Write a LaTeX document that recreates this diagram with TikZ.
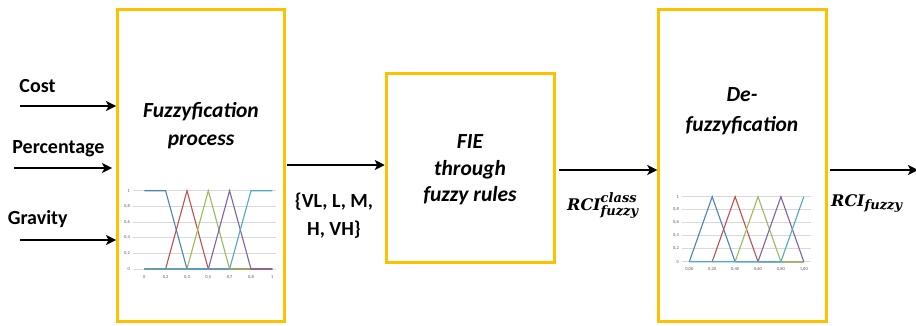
\documentclass[tikz,border=0pt]{standalone}
\usepackage{fontspec}
\setmainfont{Carlito}
\newfontfamily\rcifont{DejaVu Serif}
\usepackage{amsmath}
\DeclareMathSizes{16}{16}{13}{10}
\usetikzlibrary{arrows.meta}
\definecolor{boxor}{HTML}{FFC000}
\definecolor{gridc}{HTML}{D9D9D9}
\definecolor{labc}{HTML}{595959}
\definecolor{sblue}{HTML}{4F81BD}
\definecolor{sred}{HTML}{C0504D}
\definecolor{sgreen}{HTML}{9BBB59}
\definecolor{spurple}{HTML}{8064A2}
\definecolor{scyan}{HTML}{4BACC6}
\newcommand{\bi}[1]{\text{\bfseries\itshape #1}}
\begin{document}
\begin{tikzpicture}[x=1pt,y=-1pt,
  procbox/.style={draw=boxor,line width=3pt,rectangle,inner sep=0pt,fill=white},
  boxtxt/.style={font=\fontsize{21.5}{25}\selectfont\bfseries\itshape,anchor=base,inner sep=0pt},
  lbl/.style={font=\fontsize{20}{24}\selectfont\bfseries,anchor=base,inner sep=0pt},
  rci/.style={font=\fontsize{16}{19}\selectfont\rcifont,anchor=base west,inner sep=0pt},
  arr/.style={line width=2.6pt,-{Stealth[length=10pt,width=10pt,inset=2.5pt]}},
  grid/.style={draw=gridc,line width=0.6pt},
  tick/.style={font=\fontsize{4.5}{5}\selectfont,text=labc,inner sep=0pt},
  ser/.style={line width=1.1pt}
]
\useasboundingbox (0,0) rectangle (916,325);
\fill[white] (0,0) rectangle (916,325);

% boxes
\node[procbox,minimum width=166.7pt,minimum height=312pt] (b1) at (200.9,165.8) {};
\node[procbox,minimum width=168.3pt,minimum height=189.3pt] (b2) at (470.4,167.9) {};
\node[procbox,minimum width=168pt,minimum height=312pt] (b3) at (742.8,165.8) {};

% box texts
\node[boxtxt] (t1a) at (201,117) {Fuzzyfication};
\node[boxtxt] (t1b) at (201,145) {process};
\node[boxtxt] (t2a) at (470,148.3) {FIE};
\node[boxtxt] (t2b) at (470,175) {through};
\node[boxtxt] (t2c) at (470,201.7) {fuzzy rules};
\node[boxtxt] (t3a) at (742,101.7) {De-};
\node[boxtxt] (t3b) at (742,131.7) {fuzzyfication};

% input labels
\node[lbl] (lcost) at (37.5,92.3) {Cost};
\node[lbl] (lperc) at (58.5,153.3) {Percentage};
\node[lbl] (lgrav) at (37.7,224.3) {Gravity};
\node[lbl] (lset1) at (334,207) {\{VL, L, M,};
\node[lbl] (lset2) at (334,235) {H, VH\}};
\node[rci] (rc1) at (567,210) {$\bi{RCI}^{\bi{class}}_{\bi{fuzzy}}$};
\node[rci] (rc2) at (831,206) {$\bi{RCI}_{\bi{fuzzy}}$};

% arrows
\coordinate (c1) at (20,106);
\coordinate (c2) at (14.3,168);
\coordinate (c3) at (20,240);
\coordinate (y165) at (0,165);
\coordinate (y170) at (0,170);
\coordinate (out) at (918,170);
\draw[arr] (c1) -- (c1 -| b1.west);
\draw[arr,shorten >=4pt] (c2) -- (c2 -| b1.west);
\draw[arr] (c3) -- (c3 -| b1.west);
\draw[arr,shorten <=1.5pt] (b1.east |- y165) -- (b2.west |- y165);
\draw[arr,shorten <=3pt] (b2.east |- y170) -- (b3.west |- y170);
\draw[arr,shorten <=2pt] (b3.east |- y170) -- (out);

% chart 1
\foreach \k/\t in {0/1,1/{0,8},2/{0,6},3/{0,4},4/{0,2},5/0}{
  \draw[grid] (133,190.7+15.67*\k) -- (276,190.7+15.67*\k);
  \node[tick,anchor=east] at (130,190.7+15.67*\k) {\t};
}
\foreach \i/\t in {0/0,1/{0,2},2/{0,3},3/{0,5},4/{0,7},5/{0,8},6/1}{
  \node[tick] at (144.3+21.33*\i,277.3) {\t};
}
\draw[ser,sblue] (144.3,190.7) -- (165.6,190.7) -- (187,269) -- (272.3,269);
\draw[ser,sred] (144.3,269) -- (165.6,269) -- (187,190.7) -- (208.3,269) -- (272.3,269);
\draw[ser,sgreen] (144.3,269) -- (187,269) -- (208.3,190.7) -- (229.6,269) -- (251,269);
\draw[ser,spurple] (144.3,269) -- (208.3,269) -- (229.6,190.7) -- (251,269) -- (272.3,269);
\draw[ser,scyan] (144.3,269) -- (229.6,269) -- (251,190.7) -- (272.3,190.7);

% chart 2
\foreach \k/\t in {0/1,1/{0,8},2/{0,6},3/{0,4},4/{0,2},5/0}{
  \draw[grid] (682,196.7+13*\k) -- (811,196.7+13*\k);
  \node[tick,anchor=east] at (679,196.7+13*\k) {\t};
}
\foreach \i/\t in {0/{0,00},1/{0,20},2/{0,40},3/{0,60},4/{0,80},5/{1,00}}{
  \node[tick] at (689.3+22.9*\i,269.3) {\t};
}
\draw[ser,sblue] (689.3,261.7) -- (712.2,196.7) -- (735.1,261.7) -- (803.8,261.7);
\draw[ser,sred] (712.2,261.7) -- (735.1,196.7) -- (758,261.7) -- (803.8,261.7);
\draw[ser,sgreen] (735.1,261.7) -- (758,196.7) -- (780.9,261.7) -- (803.8,261.7);
\draw[ser,spurple] (758,261.7) -- (780.9,196.7) -- (803.8,261.7);
\draw[ser,scyan] (689.3,261.7) -- (780.9,261.7) -- (803.8,196.7);
\end{tikzpicture}
\end{document}
